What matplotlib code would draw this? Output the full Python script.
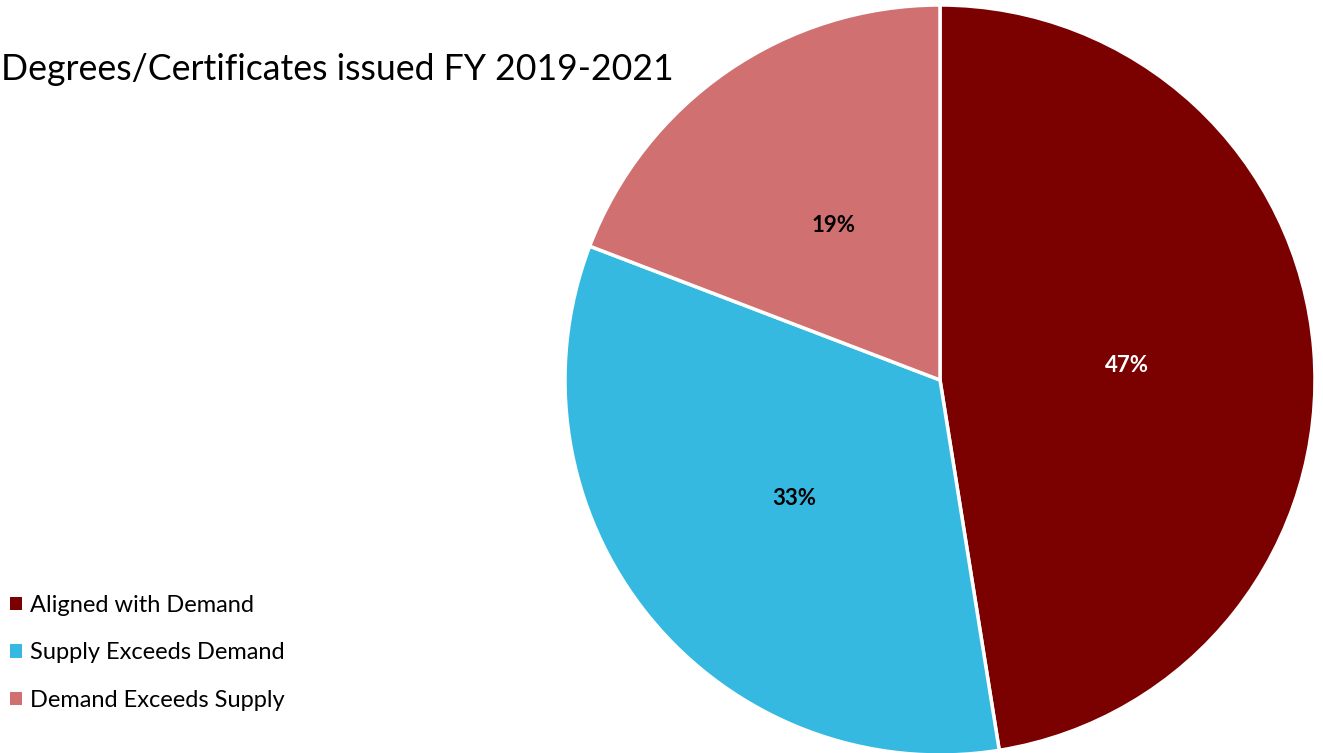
import matplotlib.pyplot as plt

plt.rcParams['font.family'] = ['Lato', 'DejaVu Sans']

categories = ['Aligned with Demand', 'Supply Exceeds Demand', 'Demand Exceeds Supply']
shares = [47, 33, 19]
colors = ['#7B0000', '#35B9E1', '#D07070']
label_colors = ['white', 'black', 'black']

fig = plt.figure(figsize=(13.23, 7.53), dpi=100)
W, H = 1323, 753

# pie axes: centre at (940, 380) px, radius 375 px
r = 375
ax = fig.add_axes([(940 - r) / W, (H - 380 - r) / H, 2 * r / W, 2 * r / H])
wedges, texts, autotexts = ax.pie(
    shares, colors=colors, startangle=90, counterclock=False,
    autopct=lambda p: f'{p:.0f}%', pctdistance=0.5, radius=1.0,
    wedgeprops=dict(edgecolor='white', linewidth=2.5),
    textprops=dict(fontsize=16, fontweight='bold'))
for t, c in zip(autotexts, label_colors):
    t.set_color(c)
ax.set_xlim(-1, 1)
ax.set_ylim(-1, 1)
ax.set_aspect('equal')
ax.axis('off')

fig.text(0.001, (H - 69) / H, 'Degrees/Certificates issued FY 2019-2021',
         fontsize=25.7, va='center', ha='left', color='black')

leg = fig.legend(wedges, categories, loc='upper left',
                 bbox_to_anchor=(0.004, (H - 590) / H), frameon=False,
                 fontsize=17, handlelength=0.5, handleheight=0.5,
                 handletextpad=0.35, labelspacing=1.12, borderaxespad=0,
                 borderpad=0.2)
for h in leg.legend_handles:
    h.set_edgecolor('none')

fig.savefig('out.png', dpi=100)
